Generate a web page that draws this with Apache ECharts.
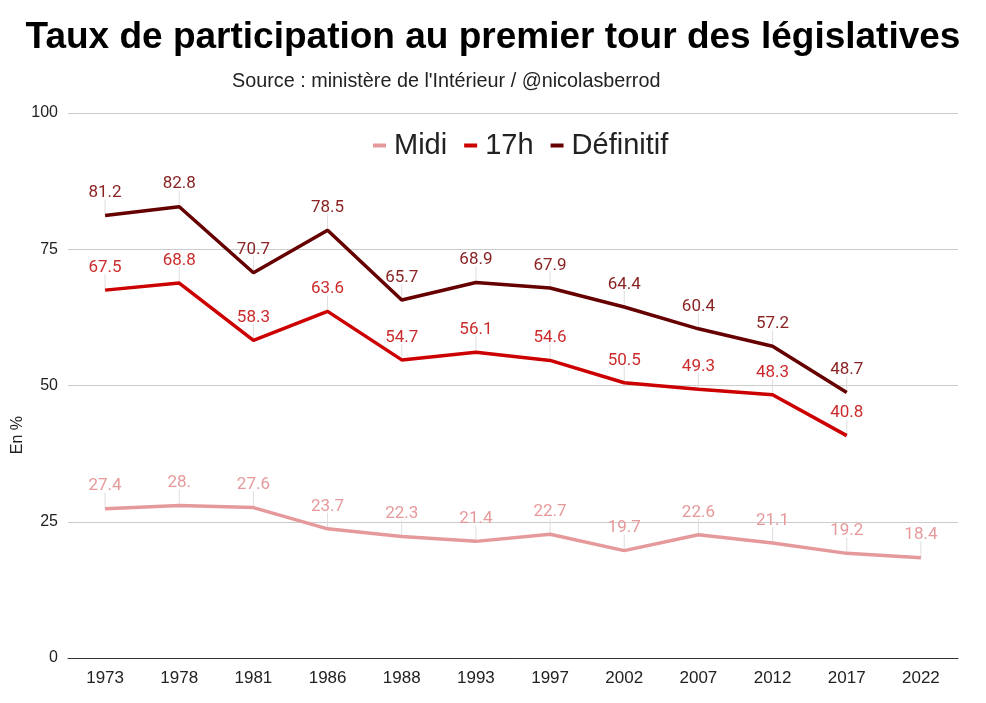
<!DOCTYPE html>
<html><head><meta charset="utf-8">
<script src="https://cdn.jsdelivr.net/npm/echarts@6/dist/echarts.min.js"></script>
<style>html,body{margin:0;padding:0;background:#fff}#c{width:986px;height:703px}</style>
</head><body><div id="c"></div>
<script>
const years = ['1973','1978','1981','1986','1988','1993','1997','2002','2007','2012','2017','2022'];
const midi = [27.4, 28.0, 27.6, 23.7, 22.3, 21.4, 22.7, 19.7, 22.6, 21.1, 19.2, 18.4];
const h17 = [67.5, 68.8, 58.3, 63.6, 54.7, 56.1, 54.6, 50.5, 49.3, 48.3, 40.8, null];
const definitif = [81.2, 82.8, 70.7, 78.5, 65.7, 68.9, 67.9, 64.4, 60.4, 57.2, 48.7, null];
const yTicks = [0, 25, 50, 75, 100];

const fmt = p => Number.isInteger(p.value) ? p.value + '.' : String(p.value);
function mk(name, data, color, labelColor) {
  return {
    name, type: 'line', data, symbol: 'circle', showSymbol: true, symbolSize: 0, z: 3,
    lineStyle: {color, width: 3.5}, itemStyle: {color},
    label: {show: true, position: 'top', distance: 14, color: labelColor, fontFamily: 'Roboto', fontSize: 17, formatter: fmt},
    emphasis: {disabled: true}
  };
}
function stems(data) {
  return {
    type: 'custom', z: 1, silent: true,
    data: data.map((v, i) => v == null ? null : [i, v]).filter(d => d),
    renderItem: (params, api) => {
      const p = api.coord([api.value(0), api.value(1)]);
      return {type: 'line', shape: {x1: p[0], y1: p[1], x2: p[0], y2: p[1] - 16},
              style: {stroke: '#dedede', lineWidth: 1}};
    }
  };
}
const chart = echarts.init(document.getElementById('c'));
chart.setOption({
  animation: false,
  backgroundColor: '#fff',
  title: [
    {text: 'Taux de participation au premier tour des législatives', left: 'center', top: 14,
     textStyle: {fontFamily: 'Liberation Sans, Arial', fontSize: 37, fontWeight: 'bold', color: '#000'}},
    {text: "Source : ministère de l'Intérieur / @nicolasberrod", left: 227, top: 67,
     textStyle: {fontFamily: 'Liberation Sans, Arial', fontSize: 19.8, fontWeight: 'normal', color: '#222'}}
  ],
  legend: {
    top: 126, left: 368, itemWidth: 13, itemHeight: 4, itemGap: 17,
    icon: 'rect',
    textStyle: {fontFamily: 'Liberation Sans, Arial', fontSize: 29, color: '#222', padding: [0, 0, 0, 3]},
    data: [
      {name: 'Midi', itemStyle: {color: '#e6999a', opacity: 1}},
      {name: '17h', itemStyle: {color: '#cc0000', opacity: 1}},
      {name: 'Définitif', itemStyle: {color: '#660000', opacity: 1}}
    ]
  },
  grid: {left: 68, right: 28, top: 113, bottom: 45},
  graphic: [{type: 'text', left: 10, top: 416, rotation: Math.PI / 2,
    style: {text: 'En %', fill: '#222', fontSize: 16, fontFamily: 'Liberation Sans, Arial'}}],
  xAxis: {
    type: 'category', data: years, boundaryGap: true,
    axisLine: {lineStyle: {color: '#333', width: 1}}, axisTick: {show: false},
    axisLabel: {color: '#222', fontSize: 17, fontFamily: 'Liberation Sans, Arial', margin: 12}
  },
  yAxis: {
    type: 'value', min: yTicks[0], max: yTicks[yTicks.length - 1], interval: 25,
    axisLine: {show: false}, axisTick: {show: false},
    axisLabel: {color: '#222', fontSize: 16, fontFamily: 'Liberation Sans, Arial', margin: 10},
    splitLine: {lineStyle: {color: '#cccccc', width: 1}}
  },
  series: [
    stems(midi), stems(h17), stems(definitif),
    mk('Midi', midi, '#e6999a', '#e6999a'),
    mk('17h', h17, '#cc0000', '#cc2b2b'),
    mk('Définitif', definitif, '#660000', '#8a2424')
  ]
});
</script></body></html>
